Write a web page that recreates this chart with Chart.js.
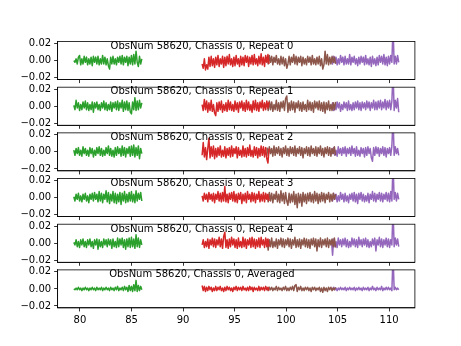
<!DOCTYPE html>
<html>
<head>
<meta charset="utf-8">
<script src="https://cdn.jsdelivr.net/npm/chart.js@4/dist/chart.umd.min.js"></script>
<style>
  html, body { margin: 0; padding: 0; background: #fff; }
  #wrap { position: relative; width: 461px; height: 346px; }
  #wrap canvas { position: absolute; left: 0; top: 0; }
</style>
</head>
<body>
<div id="wrap"></div>
<script>
// panel titles (one row of subplots each)
const panelTitles = [
    'ObsNum 58620, Chassis 0, Repeat 0',
    'ObsNum 58620, Chassis 0, Repeat 1',
    'ObsNum 58620, Chassis 0, Repeat 2',
    'ObsNum 58620, Chassis 0, Repeat 3',
    'ObsNum 58620, Chassis 0, Repeat 4',
    'ObsNum 58620, Chassis 0, Averaged'
];

// four spectral chunks, frequency span of each
const seriesNames = ['chunk 0', 'chunk 1', 'chunk 2', 'chunk 3'];
const xStart = [79.40, 91.85, 98.15, 104.40];
const xEnd = [86.00, 98.35, 104.80, 110.93];

const xTicks = [80, 85, 90, 95, 100, 105, 110];
const yTicks = [-0.02, 0.00, 0.02];

// values, in units of 1e-3, one row per panel
const greenValues = [
    [0,-2,2,-4,4,6,-5,2,-4,5,-2,4,-5,2,-4,4,-6,5,-2,4,-4,5,-5,2,-4,6,-4,4,-5,2,-6,-10,4,-4,5,-4,2,-5,4,-2,5,-4,6,-5,4,-2,5,-6,4,-4,6,-5,7,-4,11,-2,-7,5,-4,2],
    [1,-4,7,-2,4,-5,2,-4,5,-2,6,-4,4,-5,2,-4,5,-7,4,-2,5,-4,2,-5,4,-2,6,-4,4,-5,2,-4,5,-6,4,-2,5,-4,6,-5,4,-2,7,-6,5,-4,6,-5,4,-7,-9,5,-4,10,-5,6,-4,7,-2,4],
    [2,-4,4,-2,5,-4,2,-5,6,-2,4,-4,2,-5,5,-2,4,-6,2,-4,5,-2,6,-4,4,-5,2,-4,5,-2,7,-4,4,-5,2,-6,5,-4,6,-2,4,-5,7,-4,5,-6,4,-2,6,-5,7,-4,8,-6,5,-4,7,-8,4,-2],
    [1,-4,4,-2,5,-4,2,-5,4,-2,5,-4,2,-6,4,-2,5,-4,6,-2,4,-5,7,-4,5,-6,4,-2,8,-5,6,-7,4,-4,7,-6,5,-7,4,-5,6,-8,5,-4,7,-6,4,-5,6,-4,7,-5,4,-6,8,-4,5,-2,6,-4],
    [1,-2,4,-4,2,-5,4,-2,5,-4,2,-5,4,-2,5,-4,2,-6,4,-2,5,-7,4,-4,2,-5,5,-2,4,-4,5,-2,4,-6,5,-4,2,-5,6,-4,5,-2,6,-5,4,-7,5,-4,6,-5,7,-4,5,-6,10,-4,6,-5,4,-2],
    [0,-1,1,-1,2,-1,1,-2,1,-1,2,-1,1,-2,1,-1,2,-1,1,-2,2,-1,1,-1,2,-2,1,-1,2,-1,1,-2,2,-1,1,-2,2,-1,3,-2,1,-1,2,-2,3,-1,2,-3,4,-2,3,-3,5,-2,10,-3,4,-2,3,-1]
];
const redValues = [
    [-4,-9,2,-11,-5,-10,4,-7,5,-6,2,-8,4,-5,6,-7,2,-4,5,-8,4,-6,5,-4,7,-5,2,-7,4,-6,6,-4,2,-7,5,-5,4,-6,6,-2,5,-7,4,-4,6,-5,7,-4,2,-6,5,-4,8,-5,4,-7,6,-2,7,-4],
    [2,-5,8,-4,6,-7,4,-5,7,-6,2,-8,-11,4,-6,5,-4,6,-7,2,-5,4,-6,7,-4,5,-5,2,-6,6,-4,4,-7,5,-2,6,-5,4,-6,7,-4,5,-5,2,-7,6,-4,7,-5,4,-6,5,-2,7,-5,4,-4,6,-2,5],
    [-4,11,-6,5,-9,4,16,-7,6,-5,7,-8,4,-6,5,-4,7,-6,2,-5,6,-7,4,-4,5,-6,7,-5,4,-2,6,-7,5,-4,2,-6,7,-5,4,-6,5,-4,8,-5,2,-6,6,-4,5,-7,4,-5,7,-4,6,-6,5,-8,-13,4],
    [2,-4,5,-2,4,-5,6,-2,4,-4,5,-6,4,-2,7,-4,5,-5,6,-4,13,-5,4,-6,5,-2,6,-4,7,-5,4,-6,5,-2,6,-7,4,-4,5,-6,7,-2,4,-5,6,-4,5,-6,4,-2,7,-5,4,-4,6,-5,5,-2,4,-4],
    [-2,4,-5,2,-4,5,-6,4,-2,6,-4,5,-5,4,-2,7,-4,5,-6,8,13,-5,4,-6,5,-4,7,-2,5,-5,4,-6,6,-4,2,-5,7,-4,5,-6,4,-2,6,-5,7,-4,5,-6,4,-4,6,-5,7,-2,4,-5,6,-4,5,-4],
    [4,-2,3,-3,2,-2,3,-1,2,-3,1,-2,3,-2,2,-1,3,-2,1,-3,2,-2,3,-1,2,-2,1,-3,2,-1,3,-2,2,-1,2,-2,3,-1,1,-2,2,-2,3,-1,2,-3,2,-1,1,-2,3,-2,2,-1,2,-2,3,-1,2,-2]
];
const brownValues = [
    [4,-4,6,-2,5,-5,4,-2,6,-4,2,-5,5,-4,4,-6,2,-9,-4,5,-5,4,-2,7,-4,5,-5,4,-2,5,-6,4,-4,2,-5,5,-2,4,-5,6,-4,2,-5,4,-4,5,-6,2,-10,-5,11,-4,7,-5,4,-4,5,-2,4,-4],
    [4,-5,6,-4,5,-6,2,-4,7,-5,4,-6,5,-2,6,-5,9,12,-7,4,-5,6,-4,5,-7,4,-2,6,-5,4,-6,5,-4,2,-6,7,-4,5,-5,4,-7,6,-2,5,-4,6,-5,4,-6,5,-8,4,-4,6,-5,2,-5,4,-4,5],
    [5,-4,6,-2,4,-5,7,-4,5,-2,6,-4,4,-6,5,-2,7,-4,4,-5,6,-2,5,-4,7,-5,4,-2,6,-4,5,-7,4,-2,6,-4,5,-5,7,-2,4,-4,6,-5,5,-2,7,-4,4,-6,5,-2,6,-4,5,-5,4,-2,6,-4],
    [4,-5,6,-4,5,-6,4,-2,7,-5,4,-6,8,-4,5,-7,6,-4,-9,5,-6,4,-5,7,-8,4,-12,5,-6,4,-10,6,-5,4,-7,5,-4,6,-5,4,-6,7,-4,5,-7,4,-5,6,-4,5,-6,4,-2,6,-5,4,-4,5,-2,4],
    [5,-8,4,-4,6,-5,2,-4,5,-6,4,-2,6,-4,5,-5,4,-2,6,-4,5,-6,4,-2,7,-5,4,-4,5,-6,4,-2,6,-4,5,-5,4,-6,5,-2,6,-4,5,-9,4,-4,6,-5,4,-2,5,-4,6,-5,4,-2,5,-4,6,-5],
    [1,-2,2,-1,2,-2,1,-1,3,-2,2,-1,1,-2,2,-1,3,-2,1,-2,2,-1,3,-2,4,5,-3,2,-1,3,-2,1,-2,2,-1,2,-2,1,-3,2,-1,2,-2,1,-1,2,-3,1,-4,2,-2,1,-3,2,-1,2,-2,1,-1,2]
];
const purpleValues = [
    [2,-4,5,-2,4,-5,2,-4,6,-2,4,-5,5,-4,2,-4,7,-5,4,-2,5,-4,2,-6,4,-4,5,-2,4,-5,6,-4,2,-5,4,-7,5,-4,2,-6,4,-5,6,-2,5,-4,7,-5,4,-6,5,-4,6,-2,40,-4,5,-4,6,-2],
    [-2,4,-5,2,-4,5,-2,4,-6,2,-4,5,-2,4,-5,6,-4,2,-5,4,-4,5,-2,6,-4,4,-5,5,-2,4,-4,6,-2,5,-5,4,-2,7,-4,5,-4,6,-2,7,-4,5,-2,8,-4,6,-2,7,-4,6,40,-5,7,-2,9,-7],
    [4,-2,5,-4,2,-5,6,-2,4,-4,5,-2,6,-5,4,-2,5,-4,7,-2,4,-5,6,-4,2,-5,5,-2,4,-6,5,-4,6,-2,4,-7,-11,5,-4,6,-2,5,-5,4,-2,6,-4,5,-6,4,-2,5,-4,7,40,-4,6,-2,4,-4],
    [2,-4,5,-2,4,-5,2,-4,6,-2,4,-5,5,-4,2,-6,4,-2,5,-4,6,-5,4,-7,5,-2,6,-4,4,-5,2,-4,5,-6,4,-2,7,-4,5,-5,4,-2,6,-4,5,-5,4,-2,6,-4,5,-5,7,-4,40,-2,6,-4,5,-2],
    [4,-14,5,-4,2,-5,6,-2,4,-4,5,-2,6,-4,4,-5,2,-4,6,-2,5,-4,4,-5,7,-2,4,-4,5,-2,6,-4,4,-5,2,-4,5,-2,6,-9,4,-2,7,-4,5,-5,4,-2,6,-4,5,-5,4,-2,40,-4,6,-2,5,-4],
    [1,-1,2,-1,1,-2,1,-1,2,-1,1,-1,2,-2,1,-1,2,-1,1,-1,2,-2,1,-1,2,-1,1,-2,2,-1,1,-1,2,-2,1,-1,3,-1,1,-2,2,-1,1,-1,3,-2,1,-1,2,-1,2,-1,1,-2,40,-1,2,-1,1,-1]
];

const seriesValues = [greenValues, redValues, brownValues, purpleValues];
const seriesColors = ['#2ca02c', '#d62728', '#8c564b', '#9467bd'];

// figure geometry (matplotlib default subplot params, scaled to 461x346)
const W = 461, H = 346;
const axLeft = 0.125 * W, axRight = 0.9 * W;
const figTop = 0.12 * H, figBottom = 0.89 * H;
const nPanels = panelTitles.length;
const panelH = (figBottom - figTop) / (nPanels + 0.2 * (nPanels - 1));
const gapH = 0.2 * panelH;
const xAxisH = 24;
const FONT = { family: 'DejaVu Sans', size: 10 };

function toPoints(values, k) {
    const n = values.length;
    const step = (xEnd[k] - xStart[k]) / (n - 1);
    return values.map((v, i) => ({ x: xStart[k] + i * step, y: v / 1000 }));
}

function fmtY(v) {
    const s = Math.abs(v).toFixed(2);
    return v < -1e-9 ? '\u2212' + s : s;
}

const frameAndTitle = {
    id: 'frameAndTitle',
    afterDraw(chart) {
        const a = chart.chartArea;
        const c = chart.ctx;
        c.save();
        c.strokeStyle = '#000';
        c.lineWidth = 0.8;
        c.strokeRect(a.left, a.top, a.right - a.left, a.bottom - a.top);
        c.fillStyle = '#000';
        c.font = '10px "DejaVu Sans"';
        c.textAlign = 'center';
        c.textBaseline = 'alphabetic';
        c.fillText(chart.options.plugins.frameAndTitle.text,
            a.left + 0.404 * (a.right - a.left), a.top + 7.3);
        c.restore();
    }
};

const wrap = document.getElementById('wrap');

panelTitles.forEach((title, p) => {
    const canvas = document.createElement('canvas');
    canvas.width = W;
    canvas.height = H;
    canvas.style.width = W + 'px';
    canvas.style.height = H + 'px';
    wrap.appendChild(canvas);

    const top = figTop + p * (panelH + gapH);
    const bottom = top + panelH;
    const isLast = p === nPanels - 1;

    const datasets = seriesValues.map((rows, k) => ({
        label: seriesNames[k],
        data: toPoints(rows[p], k),
        borderColor: seriesColors[k],
        borderWidth: 1.5,
        borderJoinStyle: 'round',
        pointRadius: 0,
        tension: 0,
        clip: 0
    }));

    new Chart(canvas, {
        type: 'line',
        data: { datasets: datasets },
        options: {
            responsive: false,
            devicePixelRatio: 1,
            animation: false,
            events: [],
            layout: {
                padding: { left: 0, right: W - axRight, top: top, bottom: H - bottom - xAxisH }
            },
            plugins: {
                legend: { display: false },
                tooltip: { enabled: false },
                frameAndTitle: { text: title }
            },
            scales: {
                x: {
                    type: 'linear',
                    min: 77.83,
                    max: 112.5,
                    afterBuildTicks: s => { s.ticks = xTicks.map(v => ({ value: v })); },
                    afterFit: s => { s.height = xAxisH; },
                    grid: { drawOnChartArea: false, drawTicks: true, tickLength: 3.5, tickColor: '#000', tickWidth: 0.8 },
                    border: { display: true, color: '#000', width: 0.8 },
                    ticks: {
                        autoSkip: false,
                        maxRotation: 0,
                        padding: 3,
                        color: '#000',
                        font: FONT,
                        callback: v => isLast ? String(v) : ''
                    }
                },
                y: {
                    type: 'linear',
                    min: -0.0223,
                    max: 0.0223,
                    afterBuildTicks: s => { s.ticks = yTicks.map(v => ({ value: v })); },
                    afterFit: s => { s.width = axLeft; },
                    grid: { drawOnChartArea: false, drawTicks: true, tickLength: 3.5, tickColor: '#000', tickWidth: 0.8 },
                    border: { display: true, color: '#000', width: 0.8 },
                    ticks: {
                        autoSkip: false,
                        padding: 3,
                        color: '#000',
                        font: FONT,
                        callback: v => fmtY(v)
                    }
                }
            }
        },
        plugins: [frameAndTitle]
    });
});
</script>
</body>
</html>
